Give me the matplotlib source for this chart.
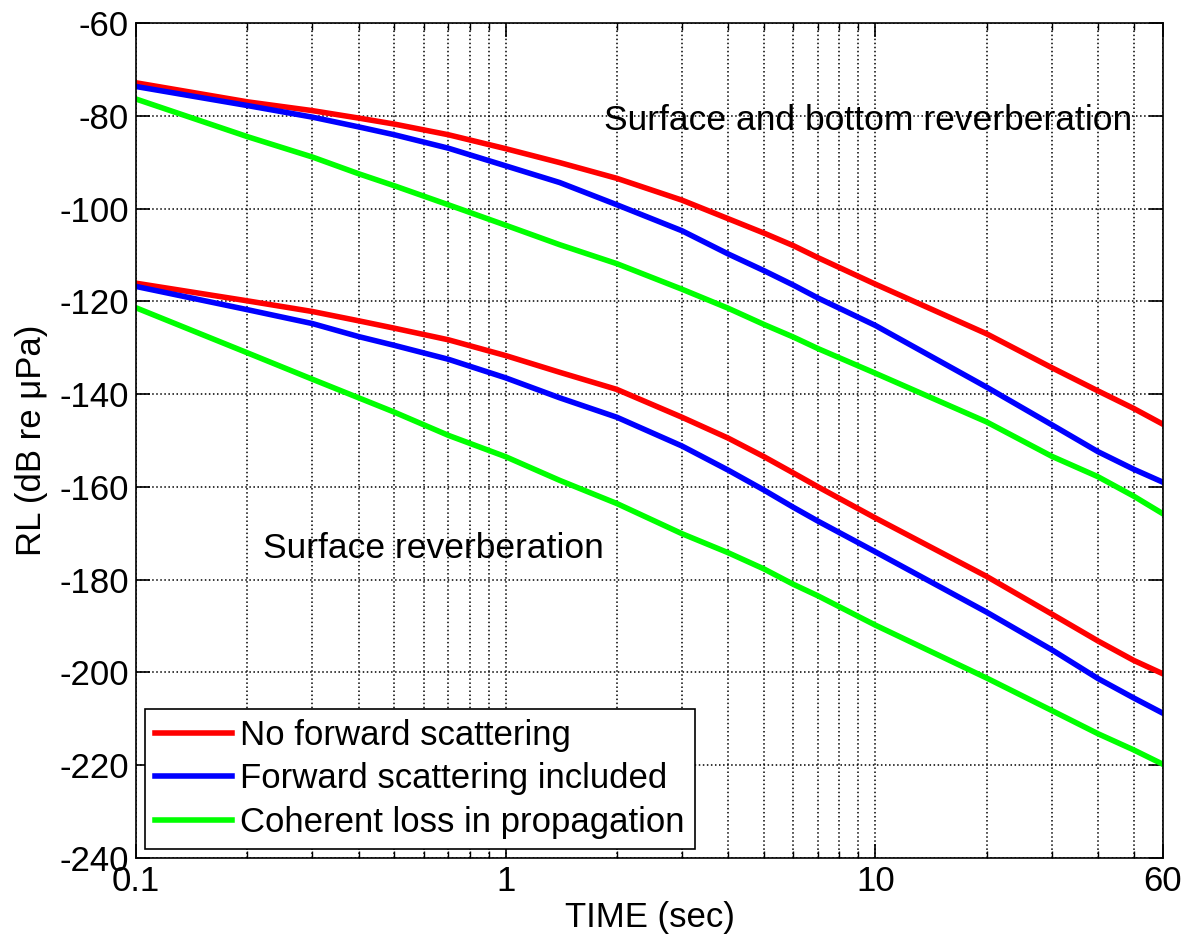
import numpy as np
import matplotlib
matplotlib.use('Agg')
import matplotlib.pyplot as plt
from matplotlib.ticker import FixedLocator, NullFormatter

plt.rcParams['font.family'] = ['Liberation Sans', 'DejaVu Sans']
plt.rcParams['axes.unicode_minus'] = False

# time samples (sec)
t = [0.1, 0.2, 0.3, 0.4, 0.5, 0.7, 1, 1.4, 2, 3, 4, 5, 6, 7, 10, 20, 30, 40, 50, 60]

# surface and bottom reverberation
sb_no_fwd = [-72.9, -77.0, -78.9, -80.5, -81.8, -84.1, -87.1, -90.1, -93.5, -98.2,
             -102.2, -105.3, -108.0, -110.6, -116.3, -127.0, -134.3, -139.3, -143.1, -146.5]
sb_fwd = [-73.7, -77.8, -80.3, -82.4, -84.1, -87.0, -90.8, -94.4, -99.2, -104.8,
          -109.8, -113.4, -116.5, -119.3, -125.2, -138.5, -146.6, -152.4, -156.2, -159.0]
sb_coh = [-76.4, -84.5, -88.9, -92.5, -95.1, -99.2, -103.6, -107.8, -111.9, -117.4,
          -121.5, -125.0, -127.7, -130.2, -135.5, -146.0, -153.4, -157.8, -162.0, -165.8]

# surface reverberation
s_no_fwd = [-116.1, -119.9, -122.2, -124.2, -125.8, -128.3, -131.7, -135.3, -139.0, -145.0,
            -149.5, -153.5, -157.0, -160.0, -166.7, -179.3, -187.4, -193.2, -197.4, -200.3]
s_fwd = [-116.8, -121.8, -124.8, -127.6, -129.5, -132.5, -136.5, -140.8, -145.0, -151.2,
         -156.4, -160.7, -164.4, -167.4, -174.0, -187.0, -195.1, -201.3, -205.5, -208.8]
s_coh = [-121.4, -131.1, -136.8, -140.8, -143.9, -148.9, -153.5, -158.6, -163.6, -170.1,
         -174.2, -177.7, -181.0, -183.5, -189.8, -201.2, -208.2, -213.2, -216.7, -219.8]

labels = ['No forward scattering', 'Forward scattering included', 'Coherent loss in propagation']
colors = ['#ff0000', '#0000ff', '#00ff00']

fig = plt.figure(figsize=(11.85, 9.41), dpi=100)
ax = fig.add_axes([0.1148, 0.0882, 0.8666, 0.8874])

for y, c, lab in zip([sb_no_fwd, sb_fwd, sb_coh], colors, labels):
    ax.plot(t, y, color=c, lw=4, label=lab)
for y, c in zip([s_no_fwd, s_fwd, s_coh], colors):
    ax.plot(t, y, color=c, lw=4)

ax.set_xscale('log')
ax.set_xlim(0.1, 60)
ax.set_ylim(-240, -60)
ax.set_yticks(np.arange(-240, -59, 20))
ax.xaxis.set_major_locator(FixedLocator([0.1, 1, 10, 60]))
ax.set_xticklabels(['0.1', '1', '10', '60'])
minors = [m * d for d in [0.1, 1, 10] for m in range(2, 10) if m * d < 60]
ax.xaxis.set_minor_locator(FixedLocator(minors))
ax.xaxis.set_minor_formatter(NullFormatter())

ax.grid(True, which='major', ls=':', color='black', lw=1.1)
ax.grid(True, which='minor', axis='x', ls=':', color='black', lw=1.1)
ax.tick_params(which='both', direction='in', top=True, right=True, labelsize=25)
ax.tick_params(which='major', length=10, width=1.2, pad=5)
ax.tick_params(which='minor', length=5, width=1)
for s in ax.spines.values():
    s.set_linewidth(1.2)

ax.set_xlabel('TIME (sec)', fontsize=25, labelpad=2)
ax.set_ylabel('RL (dB re \u03bcPa)', fontsize=25, labelpad=8)

ax.text(1.84, -81, 'Surface and bottom reverberation', fontsize=25.5, va='center')
ax.text(0.22, -173.3, 'Surface reverberation', fontsize=25.5, va='center')

leg = ax.legend(loc='lower left', fontsize=25, fancybox=False, framealpha=1,
                edgecolor='black', handlelength=2.2, handletextpad=0.25,
                borderaxespad=0.25, borderpad=0.3, labelspacing=0.3)
leg.get_frame().set_linewidth(1.2)

fig.savefig('out.png', dpi=100)
